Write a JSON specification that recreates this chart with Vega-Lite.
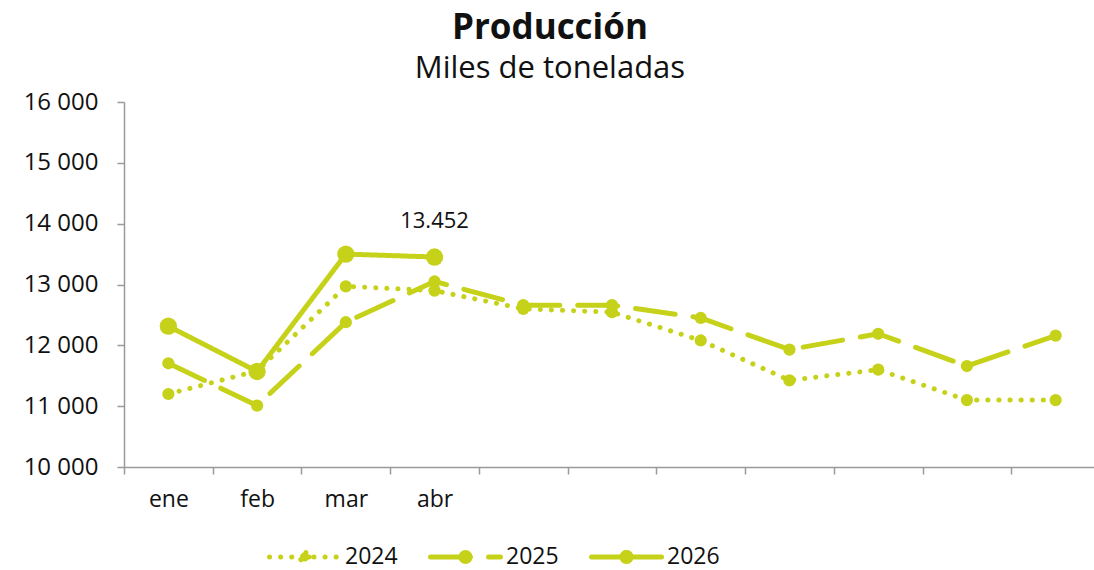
{
  "$schema": "https://vega.github.io/schema/vega-lite/v6.json",
  "width": 976,
  "height": 365,
  "padding": {"left": 23, "top": 11, "right": 0, "bottom": 5},
  "background": "white",
  "config": {
    "view": {"stroke": null},
    "font": "Open Sans",
    "locale": {"number": {"decimal": ",", "thousands": " ", "grouping": [3], "currency": ["", ""]}}
  },
  "title": {
    "text": "Producción",
    "subtitle": "Miles de toneladas",
    "font": "Open Sans",
    "fontSize": 35,
    "fontWeight": "bold",
    "color": "#111111",
    "subtitleFont": "Open Sans",
    "subtitleFontSize": 31,
    "subtitleColor": "#111111",
    "subtitlePadding": 8,
    "anchor": "middle",
    "frame": "bounds",
    "offset": 6,
    "dx": -12
  },
  "data": {
    "values": [
      {"mes": "ene", "serie": "2024", "valor": 11200},
      {"mes": "feb", "serie": "2024", "valor": 11580},
      {"mes": "mar", "serie": "2024", "valor": 12970},
      {"mes": "abr", "serie": "2024", "valor": 12900},
      {"mes": "may", "serie": "2024", "valor": 12600},
      {"mes": "jun", "serie": "2024", "valor": 12545},
      {"mes": "jul", "serie": "2024", "valor": 12080},
      {"mes": "ago", "serie": "2024", "valor": 11425},
      {"mes": "sep", "serie": "2024", "valor": 11600},
      {"mes": "oct", "serie": "2024", "valor": 11100},
      {"mes": "nov", "serie": "2024", "valor": 11100},
      {"mes": "ene", "serie": "2025", "valor": 11705},
      {"mes": "feb", "serie": "2025", "valor": 11010},
      {"mes": "mar", "serie": "2025", "valor": 12380},
      {"mes": "abr", "serie": "2025", "valor": 13050},
      {"mes": "may", "serie": "2025", "valor": 12660},
      {"mes": "jun", "serie": "2025", "valor": 12660},
      {"mes": "jul", "serie": "2025", "valor": 12450},
      {"mes": "ago", "serie": "2025", "valor": 11930},
      {"mes": "sep", "serie": "2025", "valor": 12190},
      {"mes": "oct", "serie": "2025", "valor": 11660},
      {"mes": "nov", "serie": "2025", "valor": 12160},
      {"mes": "ene", "serie": "2026", "valor": 12315},
      {"mes": "feb", "serie": "2026", "valor": 11570},
      {"mes": "mar", "serie": "2026", "valor": 13500},
      {"mes": "abr", "serie": "2026", "valor": 13452, "etiqueta": "13.452"}
    ]
  },
  "encoding": {
    "x": {
      "field": "mes",
      "type": "ordinal",
      "sort": ["ene", "feb", "mar", "abr", "may", "jun", "jul", "ago", "sep", "oct", "nov"],
      "scale": {"paddingInner": 0, "paddingOuter": 0},
      "axis": {
        "title": null,
        "labelAngle": 0,
        "labelExpr": "indexof(['ene','feb','mar','abr'], datum.value) >= 0 ? datum.value : ''",
        "labelFont": "Open Sans",
        "labelFontSize": 23,
        "labelColor": "#111111",
        "labelPadding": 14,
        "tickBand": "extent",
        "tickSize": 7,
        "tickColor": "#9a9a9a",
        "domainColor": "#9a9a9a",
        "domainWidth": 1.5,
        "tickWidth": 1.5,
        "grid": false
      }
    },
    "y": {
      "field": "valor",
      "type": "quantitative",
      "scale": {"domain": [10000, 16000], "nice": false, "zero": false},
      "axis": {
        "title": null,
        "values": [10000, 11000, 12000, 13000, 14000, 15000, 16000],
        "format": ",d",
        "labelFont": "Open Sans",
        "labelFontSize": 24,
        "labelColor": "#111111",
        "labelPadding": 19,
        "tickSize": 7,
        "tickColor": "#9a9a9a",
        "tickWidth": 1.5,
        "domainColor": "#9a9a9a",
        "domainWidth": 1.5,
        "grid": false
      }
    }
  },
  "layer": [
    {
      "mark": {"type": "line", "strokeCap": "round", "strokeJoin": "round", "color": "#c6d21a", "strokeWidth": 5},
      "encoding": {
        "detail": {"field": "serie"},
        "strokeDash": {
          "field": "serie",
          "type": "nominal",
          "scale": {"domain": ["2024", "2025", "2026"], "range": [[0.1, 11], [40, 18], [1, 0]]},
          "legend": {
            "title": null,
            "orient": "none",
            "legendX": 143,
            "legendY": 417,
            "direction": "horizontal",
            "labelFont": "Open Sans",
            "labelFontSize": 23,
            "labelColor": "#111111",
            "columnPadding": 22,
            "labelOffset": 3,
            "symbolType": "M-1,0L1,0M0.13,0A0.13,0.13,0,1,1,-0.13,0A0.13,0.13,0,1,1,0.13,0",
            "symbolSize": 4900,
            "symbolStrokeWidth": 5,
            "symbolStrokeColor": "#c6d21a",
            "symbolFillColor": "#c6d21a",
            "encode": {
              "symbols": {
                "update": {
                  "strokeCap": {"value": "round"},
                  "fillOpacity": {"value": 1}
                }
              }
            }
          }
        }
      }
    },
    {
      "transform": [{"filter": "datum.serie != '2026'"}],
      "mark": {"type": "point", "filled": true, "opacity": 1, "color": "#c6d21a", "shape": "circle", "size": 150}
    },
    {
      "transform": [{"filter": "datum.serie == '2026'"}],
      "mark": {"type": "point", "filled": true, "opacity": 1, "color": "#c6d21a", "shape": "circle", "size": 300}
    },
    {
      "transform": [{"filter": "isValid(datum.etiqueta)"}],
      "mark": {"type": "text", "dy": -36, "font": "Open Sans", "fontSize": 22, "color": "#111111"},
      "encoding": {"text": {"field": "etiqueta"}}
    }
  ]
}
